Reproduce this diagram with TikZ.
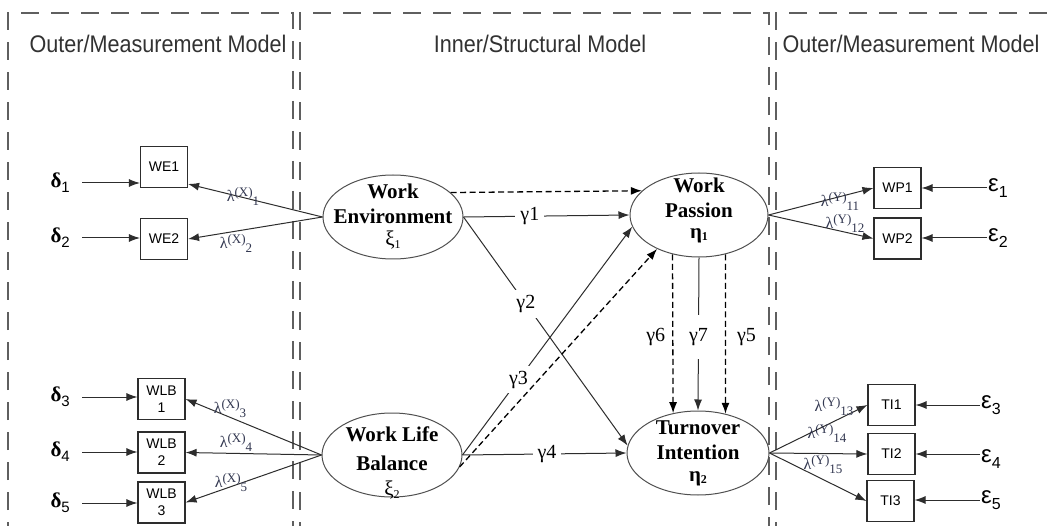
\documentclass[tikz,border=0pt]{standalone}
\usepackage{fontspec}
\setmainfont{Liberation Serif}
\newfontfamily\arial{Liberation Sans}
\usetikzlibrary{shapes.geometric,arrows.meta,calc}
\definecolor{lamcol}{RGB}{50,55,80}
\definecolor{linecol}{RGB}{45,45,45}
\definecolor{framecol}{RGB}{95,95,95}
\definecolor{ellcol}{RGB}{80,80,80}
\definecolor{headcol}{RGB}{50,50,50}
\newcommand\lamlab[2]{λ\raisebox{5pt}{\fontsize{13}{13}\selectfont(#1)}\raisebox{-4pt}{\fontsize{13}{13}\selectfont#2}}
\newcommand\dlab[1]{\textbf{δ}\raisebox{-5pt}{\arial\fontsize{15}{15}\selectfont#1}}
\newcommand\elab[1]{ε\raisebox{-6pt}{\fontsize{16}{16}\selectfont#1}}
\newcommand\xilab[1]{ξ\raisebox{-3pt}{\fontsize{12}{12}\selectfont#1}}
\newcommand\etalab[1]{\textbf{η}\raisebox{-2pt}{\fontsize{12}{12}\selectfont\bfseries#1}}
\begin{document}
\begin{tikzpicture}[x=1pt,y=-1pt,
  latent/.style={ellipse, draw=ellcol, line width=1pt, minimum width=140pt, minimum height=84pt, inner sep=0pt},
  lattext/.style={inner sep=0pt, align=center, font=\fontsize{21}{25}\selectfont},
  ind/.style={rectangle, draw=linecol, line width=1.1pt, minimum width=47pt, minimum height=41pt,
    inner sep=0pt, align=center, font=\arial\fontsize{14}{17}\selectfont},
  arr/.style={-{Latex[length=11pt,width=8pt]}, draw=linecol, line width=1pt},
  dsharr/.style={-{Latex[length=11pt,width=8pt]}, draw=black, line width=1.3pt, dash pattern=on 6pt off 3.5pt},
  panelline/.style={draw=framecol, line width=1.2pt, dash pattern=on 18pt off 12pt},
  glab/.style={fill=white, inner sep=5pt, font=\fontsize{20}{20}\selectfont},
  gside/.style={inner sep=2pt, font=\fontsize{20}{20}\selectfont},
  lam/.style={inner sep=0pt, text=lamcol, font=\fontsize{16}{16}\selectfont},
  dl/.style={inner xsep=12pt, inner ysep=0pt, anchor=east, font=\fontsize{21}{21}\selectfont},
  el/.style={inner xsep=1pt, inner ysep=0pt, anchor=west, font=\arial\fontsize{24}{24}\selectfont},
  head/.style={inner sep=0pt, text=headcol, font=\arial\fontsize{24}{24}\selectfont}]
\useasboundingbox[fill=white] (0,0) rectangle (1051,526);

% panels
\draw[panelline] (8,540) -- (8,13) -- (293,13) -- (293,540);
\draw[panelline] (300,540) -- (300,13) -- (769,13) -- (769,540);
\draw[panelline] (776,540) -- (776,13) -- (1060,13);

% headings
\node[head] (h1) at (158,44) {\scalebox{0.9}[1]{Outer/Measurement Model}};
\node[head] (h2) at (540,44) {\scalebox{0.9}[1]{Inner/Structural Model}};
\node[head] (h3) at (911,44) {\scalebox{0.9}[1]{Outer/Measurement Model}};

% latent variables
\node[latent] (WE) at (393,217) {};
\node[latent] (WLB) at (392,455) {};
\node[latent, minimum width=138pt] (WP) at (699,215) {};
\node[latent, minimum width=142pt] (TI) at (698,453) {};
\node[lattext] (WEt) at ($(WE.center)+(0,0)$) {\textbf{Work}\\\textbf{Environment}\\[-3pt]\xilab{1}};
\node[lattext] (WLBt) at ($(WLB.center)+(0,7.5)$) {\textbf{Work Life}\\[4pt]\textbf{Balance}\\[0pt]\xilab{2}};
\node[lattext] (WPt) at ($(WP.center)+(0,-4.5)$) {\textbf{Work}\\\textbf{Passion}\\[-4pt]\etalab{1}};
\node[lattext] (TIt) at ($(TI.center)+(0,0)$) {\textbf{Turnover}\\\textbf{Intention}\\[-3pt]\etalab{2}};

% indicators
\node[ind] (WE1) at (164,167) {WE1};
\node[ind] (WE2) at (164,239) {WE2};
\node[ind] (WLB1) at (161.5,399) {WLB\\1};
\node[ind] (WLB2) at (161.5,452.5) {WLB\\2};
\node[ind] (WLB3) at (161.5,502.5) {WLB\\3};
\node[ind] (WP1) at (897.5,188) {WP1};
\node[ind] (WP2) at (897.5,238.5) {WP2};
\node[ind] (TI1) at (891.5,405) {TI1};
\node[ind] (TI2) at (891.5,454) {TI2};
\node[ind] (TI3) at (890.5,501) {TI3};

% error terms
\node[dl] (d1) at (82,183) {\dlab{1}};
\node[dl] (d2) at (82,238) {\dlab{2}};
\node[dl] (d3) at (82,397) {\dlab{3}};
\node[dl] (d4) at (82,452) {\dlab{4}};
\node[dl] (d5) at (82,503) {\dlab{5}};
\node[el] (e1) at (987,188) {\elab{1}};
\node[el] (e2) at (987,238) {\elab{2}};
\node[el] (e3) at (980,405) {\elab{3}};
\node[el, yshift=-4pt] (e4) at (980,455) {\elab{4}};
\node[el] (e5) at (980,500) {\elab{5}};

\draw[arr] (d1.east) -- (d1.east -| WE1.west);
\draw[arr] (d2.east) -- (d2.east -| WE2.west);
\draw[arr] (d3.east) -- (d3.east -| WLB1.west);
\draw[arr] (d4.east) -- (d4.east -| WLB2.west);
\draw[arr] (d5.east) -- (d5.east -| WLB3.west);
\draw[arr] (e1.west) -- (e1.west -| WP1.east);
\draw[arr] (e2.west) -- (e2.west -| WP2.east);
\draw[arr] (e3.west) -- (e3.west -| TI1.east);
\draw[arr] (e4.west |- TI2.east) -- (TI2.east);
\draw[arr] (e5.west) -- (e5.west -| TI3.east);

% loadings
\draw[arr] (WE.west) -- ($(WE1.east)+(0,17)$);
\draw[arr] (WE.west) -- (WE2.east);
\draw[arr] (WLB.west) -- (WLB1.east);
\draw[arr] (WLB.west) -- (WLB2.east);
\draw[arr] (WLB.west) -- (WLB3.east);
\draw[arr] (WP.east) -- (WP1.west);
\draw[arr] (WP.east) -- (WP2.west);
\draw[arr] (TI.east) -- (TI1.west);
\draw[arr] (TI.east) -- (TI2.west);
\draw[arr] (TI.east) -- (TI3.west);

\node[lam] (lx1) at (243,196) {\lamlab{X}{1}};
\node[lam] (lx2) at (236,243) {\lamlab{X}{2}};
\node[lam] (lx3) at (230,409) {\lamlab{X}{3}};
\node[lam] (lx4) at (236,442) {\lamlab{X}{4}};
\node[lam] (lx5) at (231,483) {\lamlab{X}{5}};
\node[lam] (ly11) at (840,201) {\lamlab{Y}{11}};
\node[lam] (ly12) at (845,223) {\lamlab{Y}{12}};
\node[lam] (ly13) at (834,407) {\lamlab{Y}{13}};
\node[lam] (ly14) at (827,433) {\lamlab{Y}{14}};
\node[lam] (ly15) at (823,465) {\lamlab{Y}{15}};

% structural paths
\draw[dsharr] (WE.23) -- (WP.157);
\draw[arr] (WE.east) -- node[glab, pos=0.4] (g1) {γ1} (WP.west);
\draw[arr] (WE.east) -- node[glab, pos=0.38] (g2) {γ2} (TI.174);
\draw[arr] (WLB.east) -- node[glab, pos=0.33] (g3) {γ3} (WP.190);
\draw[dsharr] (WLB.350) -- (WP.219);
\draw[arr] (WLB.east) -- node[glab, pos=0.515, inner ysep=2pt] (g4) {γ4} (TI.west);
\draw[dsharr] (WP.236) -- node[gside, pos=0.52, left=5pt] (g6) {γ6} (TI.122);
\draw[arr] (WP.south) -- node[glab, pos=0.52, inner ysep=13pt] (g7) {γ7} (TI.north);
\draw[dsharr] (WP.304) -- node[gside, pos=0.52, right=9pt] (g5) {γ5} (TI.55);
\end{tikzpicture}
\end{document}
